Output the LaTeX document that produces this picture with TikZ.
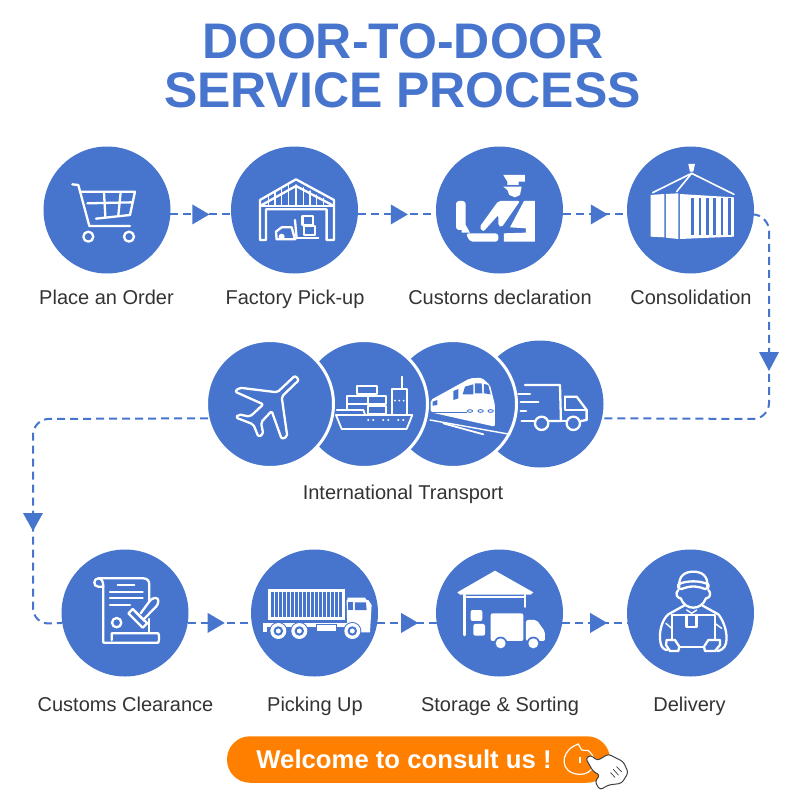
\documentclass[tikz,border=0pt]{standalone}
\usepackage{fontspec}
\setmainfont{Liberation Sans}
\usetikzlibrary{decorations.markings,calc}
\definecolor{bluec}{HTML}{4775CD}
\definecolor{orangec}{HTML}{FF7F00}
\tikzset{
  disc/.style={circle,fill=bluec,minimum size=127pt,inner sep=0pt,outer sep=0pt},
  discw/.style={disc,draw=white,line width=3pt},
  lab/.style={anchor=base,inner sep=0pt,font=\fontsize{20}{20}\selectfont,text=black!80},
  ttl/.style={anchor=base,inner sep=0pt,font=\fontsize{50}{50}\selectfont\bfseries,text=bluec},
  conn/.style={draw=bluec,line width=2pt,dash pattern=on 8pt off 5pt},
  tipat/.style={decoration={markings,mark=at position #1 with {\fill[bluec] (-8pt,-10pt)--(9pt,0pt)--(-8pt,10pt)--cycle;}},postaction={decorate}},
  zm/.style={x=.3333pt,y=-.3333pt},
  il/.style={draw=white,line width=2.3pt,line join=round,line cap=round},
  ilt/.style={draw=white,line width=1.4pt,line join=round,line cap=round},
}
\begin{document}
\begin{tikzpicture}[x=1pt,y=-1pt]
\useasboundingbox (0,0) rectangle (800,800);
% title
\node[ttl] (t1) at (403,59) {DOOR-TO-DOOR};
\node[ttl] (t2) at (402.5,107) {SERVICE PROCESS};
% circles
\node[disc] (a1) at (107,210) {};
\node[disc] (a2) at (294.5,210) {};
\node[disc] (a3) at (499.5,210) {};
\node[disc] (a4) at (690.5,210) {};
\node[disc] (m4) at (540,404) {};
\node[discw] (m3) at (453,404) {};
\node[discw] (m2) at (364,404) {};
\node[discw] (m1) at (270,404) {};
\node[disc] (b1) at (125,613) {};
\node[disc] (b2) at (314.5,613) {};
\node[disc] (b3) at (499.5,613) {};
\node[disc] (b4) at (690.5,613) {};
% labels
\node[lab] (la1) at (106.5,304) {Place an Order};
\node[lab] (la2) at (295,304) {Factory Pick-up};
\node[lab] (la3) at (500,304) {Custorns declaration};
\node[lab] (la4) at (691,304) {Consolidation};
\node[lab] (lm) at (403,499) {International Transport};
\node[lab] (lb1) at (125.5,711) {Customs Clearance};
\node[lab] (lb2) at (315,711) {Picking Up};
\node[lab] (lb3) at (500,711) {Storage \& Sorting};
\node[lab] (lb4) at (689.5,711) {Delivery};
% connectors
\coordinate (c1) at (769,215);
\coordinate (c2) at (769,419);
\coordinate (c3) at (33,419);
\coordinate (c4) at (33,624);
\draw[conn,tipat=30pt] (a1.-4.5) -- (a2.184.5);
\draw[conn,tipat=41pt] (a2.-4.5) -- (a3.184.5);
\draw[conn,tipat=36pt] (a3.-4.5) -- (a4.184.5);
\draw[conn,rounded corners=16pt] (a4.-4.5) -- (c1) -- (c2) -- (m4.-13.6);
\fill[bluec] (759,352)--(779,352)--(769,371)--cycle;
\draw[conn,rounded corners=16pt] (m1.193.6) -- (c3) -- (c4) -- (b1.189.9);
\fill[bluec] (23,513)--(43,513)--(33,531)--cycle;
\draw[conn,tipat=28pt] (b1.-9.9) -- (b2.189.9);
\draw[conn,tipat=32pt] (b2.-9.9) -- (b3.189.9);
\draw[conn,tipat=36pt] (b3.-9.9) -- (b4.189.9);
% --- icons: coordinates read on 3x crops
% cart
\begin{scope}[shift={(30,140)},zm]
\draw[il] (127,133)--(145,135)--(178,258)--(300,258);
\draw[il] (155,155)--(315,155)--(300,225)--(198,236);
\draw[il] (172,190)--(308,187);
\draw[il] (222,157)--(226,230);
\draw[il] (272,157)--(265,226);
\draw[il] (175,290) circle[radius=15];
\draw[il] (297,290) circle[radius=15];
% warehouse
\draw[il] (690,180)--(798,118)--(912,180)--(912,300)--(890,300)--(890,208)--(708,208)--(708,300)--(690,300)--cycle;
\draw[il] (690,198)--(798,138)--(912,198);
\foreach \x/\y in {715/165,735/153,755/143,775/135,798/135,820/143,840/153,860/165,880/175}{\draw[ilt] (\x,\y)--(\x,195);}
\draw[il] (690,197)--(912,197);
\draw[il] (818,228) rectangle (850,255);
\draw[il] (822,258) rectangle (855,285);
\draw[il] (800,295)--(865,295);
\draw[il] (738,275)--(755,262)--(785,262)--(795,298)--(740,298)--cycle;
\draw[il] (795,240)--(800,295);
\fill[white] (755,290) circle[radius=9];
\end{scope}
% customs officer
\begin{scope}[shift={(420,140)},zm]
\fill[white,rounded corners=3pt] (108,183)--(137,183)--(137,270)--(108,270)--cycle;
\fill[white] (125,255)--(137,255)--(150,278)--(125,278)--cycle;
\fill[white,rounded corners=3pt] (137,280)--(235,280)--(235,305)--(150,305)--cycle;
\fill[white] (250,105)--(315,105)--(315,125)--(296,125)--(296,135)--(262,135)--(262,125)--cycle;
\fill[white] (250,140)--(305,140)--(300,165)--(285,172)--(268,165)--(262,150)--cycle;
\fill[white,rounded corners=2pt] (178,262)--(235,183)--(300,183)--(245,262)--(235,258)--(235,225)--(190,275)--cycle;
\fill[white] (312,183)--(345,183)--(345,305)--(252,305)--(252,280)--(318,278)--(318,265)--(270,262)--cycle;
% container
\fill[white] (805,72)--(825,72)--(820,95)--(810,95)--cycle;
\draw[il,line width=1.6pt] (698,158)--(815,100)--(942,163);
\draw[il,line width=1.6pt] (815,100)--(770,155);
\fill[white] (692,165)--(733,162)--(733,292)--(692,290)--cycle;
\fill[white] (738,162)--(775,160)--(775,297)--(738,293)--cycle;
\fill[white] (780,162)--(942,172)--(942,290)--(780,297)--cycle;
\foreach \x in {814,836,858,880,902,924}{\fill[bluec] (\x,174) rectangle (\x+8,284);}
\end{scope}
% middle row
\begin{scope}[shift={(200,335)},zm]
% plane
\draw[il,rounded corners=2pt] (285,122)--(232,172)--(118,158)--(105,170)--(190,208)--(150,245)--(115,238)--(108,248)--(160,268)--(175,305)--(190,298)--(183,262)--(215,228)--(245,312)--(262,305)--(245,185)--(297,135)--cycle;
% ship
\begin{scope}[line width=1.8pt,draw=white,line join=round,line cap=round]
\draw (408,240)--(637,240)--(620,282)--(425,282)--cycle;
\draw (410,225)--(490,225)--(495,238);
\draw (470,152) rectangle (530,178);
\draw (440,182) rectangle (505,208);
\draw (505,182) rectangle (558,208);
\draw (505,212) rectangle (558,238);
\draw (440,208)--(440,222);
\draw (575,238)--(575,162)--(620,162)--(620,238);
\draw (607,125)--(607,160);
\end{scope}
\foreach \x in {505,520,550,565,595,610}{\fill[white] (\x,255) circle[radius=3.5];}
\foreach \x in {585,598,611}{\fill[white] (\x,197) circle[radius=3];}
% train
\fill[white,rounded corners=2pt] (692,195)--(810,130)--(845,128)--(870,150)--(885,210)--(885,275)--(692,232)--cycle;
\fill[bluec] (788,178)--(795,155)--(820,148)--(820,178)--cycle;
\fill[bluec] (825,145)--(845,145)--(847,175)--(825,175)--cycle;
\fill[bluec] (852,147)--(865,150)--(872,178)--(852,175)--cycle;
\fill[bluec] (760,168)--(775,162)--(775,190)--(760,195)--cycle;
\fill[bluec] (698,200)--(712,195)--(712,210)--(698,212)--cycle;
\draw[bluec,line width=.7pt] (692,232)--(800,232);
\foreach \x in {810,842,872}{\draw[bluec,line width=.9pt] (\x,228) ellipse[x radius=8,y radius=4];}
\draw[il,line width=1.4pt] (690,255)--(930,298);
\draw[il,line width=1.8pt] (730,265)--(850,298);
% truck
\draw[il] (975,150)--(1080,150)--(1083,258)--(1045,258);
\draw[il] (955,178)--(990,178);
\draw[il] (962,201)--(1015,201);
\draw[il] (962,228)--(978,228);
\draw[il] (965,258)--(1003,258);
\draw[il] (1095,185)--(1130,185)--(1160,225)--(1160,255)--(1143,258);
\draw[il] (1100,258)--(1083,258);
\draw[il] (1095,185)--(1095,225)--(1160,225);
\draw[il] (1025,265) circle[radius=20];
\draw[il] (1120,265) circle[radius=20];
\end{scope}
% bottom: scroll and truck
\begin{scope}[shift={(50,545)},zm]
\draw[il] (145,100)--(280,100)..controls (292,100) and (298,108) .. (298,118)--(298,170);
\draw[il] (145,100)..controls (130,100) and (128,125) .. (145,125)--(160,125);
\draw[il] (145,100)..controls (155,100) and (160,110) .. (160,125)--(160,293)--(325,293)..controls (328,285) and (328,272) .. (325,265)--(185,265)--(185,285);
\draw[il] (298,222)--(298,262);
\draw[il] (203,119)--(253,119);
\draw[il] (180,140)--(278,140);
\draw[il] (180,160)--(278,160);
\draw[il] (180,180)--(240,180);
\draw[il] (200,233) circle[radius=14];
\draw[il,rounded corners=3pt] (272,205)--(305,160)--(325,158)--(325,178)--(282,222);
\draw[il] (235,205)--(248,192)--(292,235)--(278,248)--cycle;
\draw[il] (256,200)--(284,228);
% truck
\fill[white] (655,133) rectangle (885,225);
\foreach \x in {664,676,688,700,712,724,736,748,760,772,784,796,808,820,832,844,856,868}{\fill[bluec] (\x,141) rectangle (\x+7,217);}
\fill[white] (640,233) rectangle (960,245);
\fill[white] (640,245) rectangle (652,262);
\fill[white] (890,165)--(955,165)--(965,180)--(960,262)--(892,262)--cycle;
\fill[white] (892,158)--(945,158)--(950,165)--(892,165)--cycle;
\fill[bluec] (915,172)--(948,172)--(950,195)--(915,195)--cycle;
\fill[bluec] (895,172)--(908,172)--(908,195)--(895,195)--cycle;
\fill[white] (800,238) rectangle (860,260);
\draw[bluec,line width=.8pt] (800,238) rectangle (860,260);
\foreach \x in {685,748,907}{
  \fill[bluec] (\x,258) circle[radius=27];
  \fill[white] (\x,258) circle[radius=24];
  \draw[bluec,line width=2pt] (\x,258) circle[radius=11];}
\end{scope}
% storage and delivery
\begin{scope}[shift={(430,545)},zm]
\fill[white,line join=round] (82,142)--(195,77)--(310,142)--(302,149)--(90,149)--cycle;
\draw[il] (110,157)--(285,157);
\draw[il,line width=2.8pt] (103,150)--(103,270);
\draw[il,line width=2.8pt] (285,150)--(285,185);
\fill[white,rounded corners=2pt] (122,195) rectangle (157,228);
\fill[white,rounded corners=2pt] (130,237) rectangle (165,272);
\fill[white,rounded corners=2pt] (182,205) rectangle (280,288);
\fill[white,rounded corners=2pt] (288,225)--(320,225)--(345,260)--(345,288)--(288,288)--cycle;
\foreach \x in {212,310}{\fill[bluec] (\x,295) circle[radius=20];\fill[white] (\x,295) circle[radius=15];}
% delivery man
\draw[il] (748,125)..controls (745,92) and (765,80) .. (790,80)..controls (815,80) and (835,92) .. (832,125);
\draw[il] (745,118)..controls (770,106) and (810,106) .. (835,118)..controls (838,128) and (832,132) .. (825,132)..controls (800,122) and (780,122) .. (755,132)..controls (745,132) and (742,125) .. (745,118);
\draw[il] (745,135)..controls (732,150) and (745,160) .. (752,160)..controls (760,180) and (775,188) .. (790,188)..controls (805,188) and (820,180) .. (828,160)..controls (835,160) and (848,150) .. (835,135);
\draw[il] (762,182)--(715,208)..controls (695,225) and (685,265) .. (692,295)..controls (695,310) and (705,315) .. (712,315);
\draw[il] (818,182)--(865,208)..controls (880,225) and (895,265) .. (888,295)..controls (885,310) and (870,318) .. (862,318);
\draw[il] (725,210)--(855,210)--(855,285);
\draw[il] (725,210)--(725,285);
\draw[il] (748,305)--(820,305);
\draw[il] (710,285)--(735,285)--(748,305)--(745,318)--(720,318)--(708,300)--cycle;
\draw[il] (870,285)--(835,285)--(822,305)--(825,318)--(855,318)--(870,300)--cycle;
\draw[il] (770,210)--(770,245)--(800,245)--(800,210);
\draw[il,line width=1.4pt] (770,195)--(785,205)--(800,195);
\draw[ilt] (708,235)--(725,250);
\draw[ilt] (855,235)--(875,250);
\end{scope}
% button
\node[fill=orangec,minimum width=383pt,minimum height=46.5pt,inner sep=0pt,rounded corners=23pt] (btn) at (418.5,759.5) {};
\node[anchor=base,inner sep=0pt,text=white,font=\fontsize{25.7}{26}\selectfont\bfseries] (btxt) at (404,768) {Welcome to consult us !};
\begin{scope}[shift={(220,730)},zm]
\draw[white,line width=1.2pt] (1062,48)..controls (1020,70) and (1020,130) .. (1078,133)..controls (1120,135) and (1140,90) .. (1105,62)--(1085,60)--(1075,42)--cycle;
\draw[white,line width=1.2pt] (1080,82)--(1080,100);
\draw[black!75,fill=white,line width=1pt,line join=round,rounded corners=3pt] (1097,85)--(1112,75)--(1132,92)--(1165,72)--(1190,85)--(1210,95)--(1225,128)--(1205,160)--(1165,165)--(1140,180)--(1125,155)--(1140,135)--(1120,125)--cycle;
\draw[black!75,line width=.7pt,line cap=round] (1180,118)--(1195,135);
\draw[black!75,line width=.7pt,line cap=round] (1190,110)--(1205,125);
\draw[black!75,line width=.7pt,line cap=round] (1172,128)--(1185,142);
\end{scope}
\end{tikzpicture}
\end{document}
